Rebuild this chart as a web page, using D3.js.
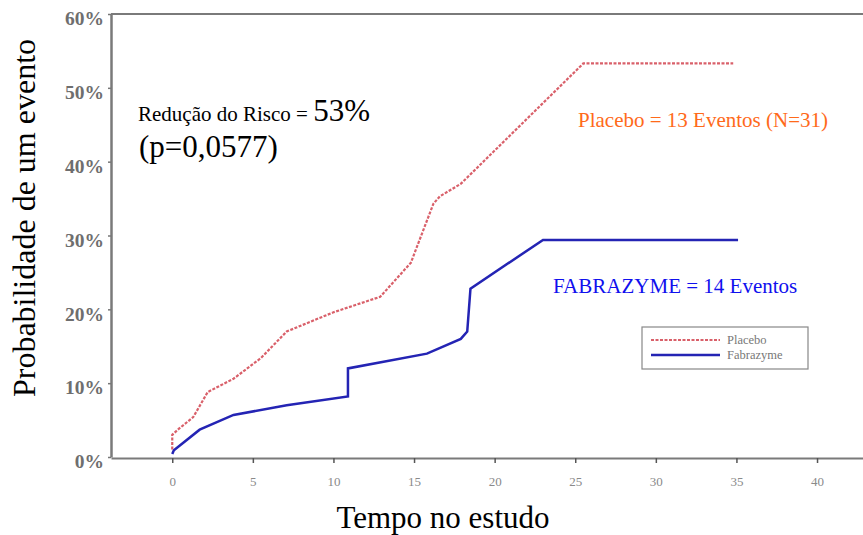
<!DOCTYPE html>
<html><head><meta charset="utf-8">
<script src="https://cdn.jsdelivr.net/npm/d3@7"></script>
<style>body{margin:0;background:#fff}svg{display:block}</style>
</head><body>
<svg id="c" width="863" height="535"></svg>
<script>
const placeboT = [0, 0, 0.4, 1.3, 2.2, 3.8, 5.5, 7.1, 10, 12.9, 14.8, 16.2, 16.6, 17.9, 25.5, 34.8];
const placeboV = [1.0, 3.0, 3.8, 5.4, 8.8, 10.6, 13.4, 17.0, 19.6, 21.7, 26.3, 34.3, 35.3, 37.0, 53.3, 53.3];
const fabT = [0, 0.1, 1.7, 3.8, 7.1, 10.9, 10.9, 15.8, 17.9, 18.3, 18.5, 23, 35.1];
const fabV = [0.4, 0.9, 3.7, 5.7, 7.0, 8.2, 12.0, 14.0, 16.0, 17.0, 22.8, 29.4, 29.4];
const xTicks = [0, 5, 10, 15, 20, 25, 30, 35, 40];
const yTicks = [0, 10, 20, 30, 40, 50, 60];
const legendLabels = ["Placebo", "Fabrazyme"];

const svg = d3.select("#c");
const x = d3.scaleLinear().domain([-3.8, 43.1]).range([111, 867]);
const y = d3.scaleLinear().domain([0, 60]).range([457, 14]);
const axisColor = "#7a7a7a";

svg.append("line").attr("x1", 111).attr("x2", 863).attr("y1", 14).attr("y2", 14)
  .attr("stroke", axisColor).attr("stroke-width", 2);

const gx = svg.append("g").attr("transform", "translate(0,458)")
  .call(d3.axisBottom(x).tickValues(xTicks).tickSize(5).tickSizeOuter(0).tickFormat(d3.format("d")));
gx.select(".domain").attr("stroke", axisColor).attr("stroke-width", 2);
gx.selectAll(".tick line").attr("stroke", "#555").attr("stroke-width", 1.5);
gx.selectAll(".tick text").attr("fill", "#8a8a8a").attr("font-family", "Liberation Serif")
  .attr("font-size", 13).attr("dy", "1.55em");

const gy = svg.append("g").attr("transform", "translate(111,0)")
  .call(d3.axisLeft(y).tickValues(yTicks).tickSize(3).tickSizeOuter(0).tickFormat(d => d + "%"));
gy.select(".domain").attr("stroke", axisColor).attr("stroke-width", 2.5);
gy.selectAll(".tick line").attr("stroke", "#777").attr("stroke-width", 1.5);
gy.selectAll(".tick text").attr("fill", "#6e6e6e").attr("font-family", "Liberation Serif")
  .attr("font-weight", "bold").attr("font-size", 19.5).attr("x", -7).attr("dy", "0.55em");

const line = d3.line().x(d => x(d[0])).y(d => y(d[1]));
const placebo = placeboT.map((t, i) => [t, placeboV[i]]);
const fab = fabT.map((t, i) => [t, fabV[i]]);

svg.append("path").datum(placebo).attr("d", line).attr("fill", "none")
  .attr("stroke", "#d9606a").attr("stroke-width", 2.2).attr("stroke-dasharray", "3,1.5");
svg.append("path").datum(fab).attr("d", line).attr("fill", "none")
  .attr("stroke", "#2424b4").attr("stroke-width", 2.5);

const ann = svg.append("text").attr("x", 138).attr("y", 121).attr("font-family", "Liberation Serif").attr("fill", "#000");
ann.append("tspan").attr("font-size", 21).text("Redução do Risco = ");
ann.append("tspan").attr("font-size", 31).text("53%");
svg.append("text").attr("x", 139).attr("y", 157).attr("font-family", "Liberation Serif")
  .attr("font-size", 31).text("(p=0,0577)");
svg.append("text").attr("x", 578).attr("y", 127).attr("font-family", "Liberation Serif")
  .attr("font-size", 21).attr("fill", "#ff6a1a").text("Placebo = 13 Eventos (N=31)");
svg.append("text").attr("x", 553).attr("y", 293).attr("font-family", "Liberation Serif")
  .attr("font-size", 21).attr("fill", "#1010ee").text("FABRAZYME = 14 Eventos");

const lg = svg.append("g");
lg.append("rect").attr("x", 642).attr("y", 327).attr("width", 166).attr("height", 42)
  .attr("fill", "#fff").attr("stroke", "#888").attr("stroke-width", 1.2);
lg.append("line").attr("x1", 651).attr("x2", 720).attr("y1", 340).attr("y2", 340)
  .attr("stroke", "#d9606a").attr("stroke-width", 2).attr("stroke-dasharray", "3,1.5");
lg.append("line").attr("x1", 651).attr("x2", 720).attr("y1", 355).attr("y2", 355)
  .attr("stroke", "#2424b4").attr("stroke-width", 2.5);
lg.selectAll("text.lab").data(legendLabels).enter().append("text").attr("class", "lab")
  .attr("x", 727).attr("y", (d, i) => 344 + i * 15).attr("font-family", "Liberation Serif")
  .attr("font-size", 12.5).attr("fill", "#777").text(d => d);

svg.append("text").attr("transform", "translate(35,218) rotate(-90)").attr("text-anchor", "middle")
  .attr("font-family", "Liberation Serif").attr("font-size", 32).text("Probabilidade de um evento");
svg.append("text").attr("x", 443).attr("y", 528).attr("text-anchor", "middle")
  .attr("font-family", "Liberation Serif").attr("font-size", 31).text("Tempo no estudo");
</script>
</body></html>
